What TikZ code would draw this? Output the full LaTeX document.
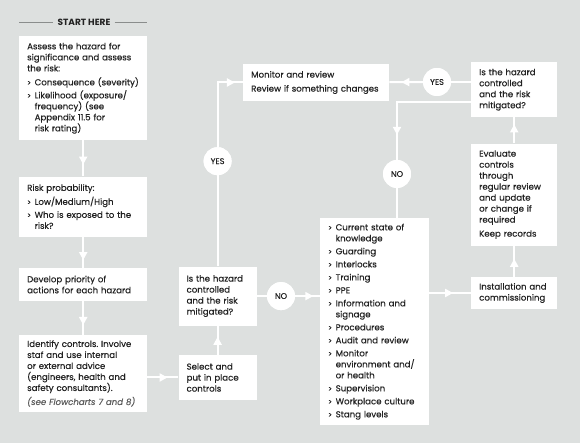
\documentclass[tikz,border=0pt]{standalone}
\usepackage{fontspec}
\setmainfont{Poppins}
\newfontfamily\boxfont{Poppins}[FakeBold=0.35]
\usepackage{xcolor}
\usetikzlibrary{positioning, arrows.meta, decorations.markings}
\definecolor{bg}{HTML}{DDE0DF}
\definecolor{ink}{HTML}{222222}
\definecolor{rulegrey}{HTML}{8A8D8C}
\definecolor{notegrey}{HTML}{5E5E5E}
\newcommand{\bul}{\makebox[7.5pt][l]{\scriptsize >}}
\newcommand{\ind}{\hspace*{7.5pt}}
\frenchspacing

\begin{document}
\begin{tikzpicture}[
    x=1pt, y=1pt,
    box/.style={
        fill=white,
        text=ink,
        align=left,
        text width=#1,
        inner xsep=8pt,
        inner ysep=5pt,
        font=\boxfont\fontsize{8.6}{11}\selectfont
    },
    circ/.style={
        circle,
        fill=white,
        text=ink,
        minimum size=28pt,
        inner sep=0pt,
        font=\boxfont\fontsize{8.2}{9}\selectfont
    },
    link/.style={
        draw=white,
        line width=2pt
    },
    flow/.style={
        link,
        postaction={decorate},
        decoration={markings,
            mark=at position #1 with {\arrow[white]{Triangle[width=8pt, length=8pt]}}}
    },
    flow/.default=0.7
]

\fill[bg] (0,0) rectangle (580,443);
\useasboundingbox (0,0) rectangle (580,443);

% Header
\node (start) [text=ink, font=\fontsize{9}{10}\selectfont\bfseries, inner sep=4pt] at (84,421) {START HERE};
\draw [rulegrey, line width=0.8pt] (19,421) -- (start.west);
\draw [rulegrey, line width=0.8pt] (start.east) -- (147,421);

% Left column
\node (assess) [box=112pt, minimum height=104pt, anchor=north west] at (19,407) {Assess the hazard for\\
significance and assess\\
the risk:\\[3pt]
\bul Consequence (severity)\\[2pt]
\bul Likelihood (exposure/\\
\ind frequency) (see\\
\ind Appendix 11.5 for\\
\ind risk rating)};
\node (prob) [box=112pt, minimum height=60pt, below=36pt of assess] {Risk probability:\\[3pt]
\bul Low/Medium/High\\[2pt]
\bul Who is exposed to the\\
\ind risk?};
\node (priority) [box=112pt, minimum height=33pt, below=31pt of prob] {Develop priority of\\
actions for each hazard};
\node (identify) [box=112pt, minimum height=71pt, below=34pt of priority] {Identify controls. Involve\\
staf and use internal\\
or external advice\\
(engineers, health and\\
safety consultants).\\[3pt]
{\color{notegrey}\itshape (see Flowcharts 7 and 8)}};

% Middle
\node (select) [box=62pt, minimum height=45pt, right=31pt of identify, yshift=-4pt] {Select and\\
put in place\\
controls};
\node (checkL) [box=62pt, minimum height=59pt, above=29pt of select] {Is the hazard\\
controlled\\
and the risk\\
mitigated?};
\node (yesL) [circ, above=91pt of checkL] {YES};
\node (noL) [circ, right=10pt of checkL] {NO};
\node (monitor) [box=130pt, minimum height=37pt, anchor=west] at (243,360.5) {Monitor and review\\[3pt]
Review if something changes};
\node (measures) [box=93pt, minimum height=207pt, anchor=north west] at (320,225) {\bul Current state of\\
\ind knowledge\\[2pt]
\bul Guarding\\[2pt]
\bul Interlocks\\[2pt]
\bul Training\\[2pt]
\bul PPE\\[2pt]
\bul Information and\\
\ind signage\\[2pt]
\bul Procedures\\[2pt]
\bul Audit and review\\[2pt]
\bul Monitor\\
\ind environment and/\\
\ind or health\\[2pt]
\bul Supervision\\[2pt]
\bul Workplace culture\\[2pt]
\bul Stang levels};

% Right column
\node (install) [box=70pt, minimum height=32pt, anchor=west] at (471,150) {Installation and\\
commissioning};
\node (evaluate) [box=70pt, minimum height=102pt, above=31pt of install] {Evaluate\\
controls\\
through\\
regular review\\
and update\\
or change if\\
required\\[3pt]
Keep records};
\node (checkR) [box=70pt, minimum height=55pt, above=26pt of evaluate] {Is the hazard\\
controlled\\
and the risk\\
mitigated?};
\node (yesR) [circ] at (437,361) {YES};
\node (noR) [circ] at (397,269) {NO};

% Down the left column
\draw [flow=0.67] (assess) -- (prob);
\draw [flow=0.75] (prob) -- (priority);
\draw [flow=0.7] (priority) -- (identify);
\draw [flow=0.65] (select -| identify.east) -- (select);

% Controls checked
\draw [flow=0.62] (select) -- (checkL);
\draw [link] (checkL) -- (yesL);
\draw [flow=0.91] (yesL) |- (monitor);
\draw [link] (checkL) -- (noL);
\draw [flow=0.73] (noL) -- (noL -| measures.west);

% Right-hand loop
\draw [flow=0.57] (install -| measures.east) -- (install);
\draw [flow=0.58] (install) -- (evaluate);
\draw [flow=0.73] (evaluate) -- (checkR);
\draw [link] (yesR -| checkR.west) -- (yesR);
\draw [flow=0.64] (yesR) -- (monitor);
\draw [flow=0.81] ([yshift=15pt]checkR.south west) -| (noR);
\draw [link] (noR) -- (noR |- measures.north);

% Circles on top of the lines
\node [circ] at (yesL) {YES};
\node [circ] at (noL) {NO};
\node [circ] at (yesR) {YES};
\node [circ] at (noR) {NO};

\end{tikzpicture}
\end{document}
